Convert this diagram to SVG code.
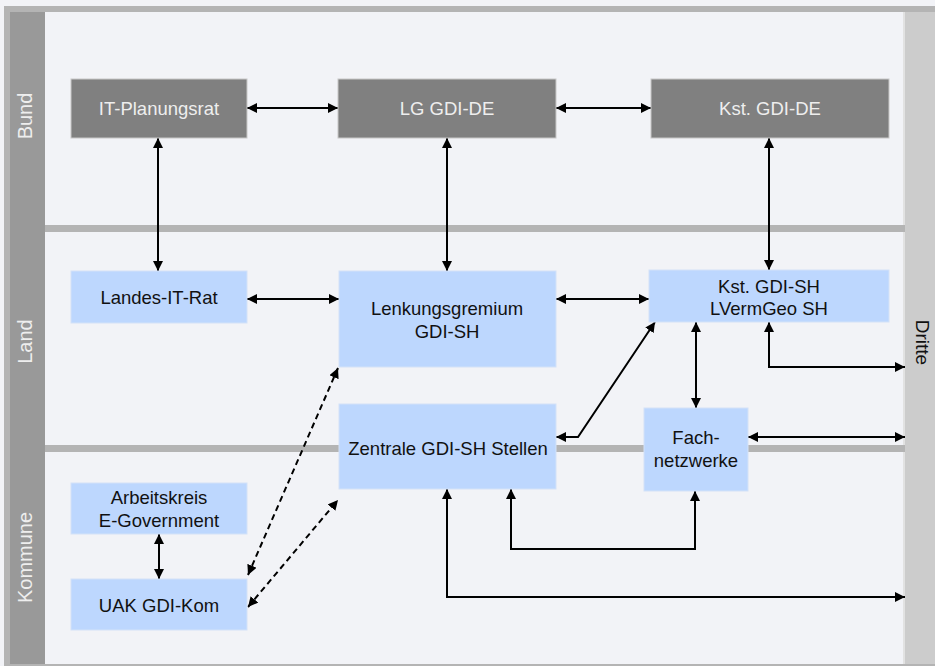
<svg xmlns="http://www.w3.org/2000/svg" width="935" height="666" viewBox="0 0 935 666">
<defs>
<marker id="ah" viewBox="0 0 10 10" refX="10" refY="5" markerWidth="10" markerHeight="10" markerUnits="userSpaceOnUse" orient="auto-start-reverse">
<path d="M0,0 L10,5 L0,10 z" fill="#000"/>
</marker>
<style>
.bg{fill:#f2f3f7}
.frame{fill:#b4b4b4}
.lane{fill:#999999}
.div{fill:#b4b4b4}
.dritte{fill:#cccccc}
.dark{fill:#808080;stroke:#c8c8c8;stroke-width:1}
.blue{fill:#bdd7fe;stroke:#d3e2f8;stroke-width:1}
.tl{font-family:"Liberation Sans",Arial,sans-serif;font-size:18.5px;text-anchor:middle}
.tw{fill:#eeeeee}
.tb{fill:#111111}
.lab{font-family:"Liberation Sans",Arial,sans-serif;font-size:20px;text-anchor:middle}
.c{fill:none;stroke:#000;stroke-width:2;marker-start:url(#ah);marker-end:url(#ah)}
.d{stroke-dasharray:6 4}
</style>
</defs>
<rect class="bg" x="0" y="0" width="935" height="666"/>
<rect class="frame" x="4" y="6" width="931" height="660"/>
<rect class="bg" x="10" y="12" width="925" height="652"/>
<rect class="lane" x="10" y="12" width="35" height="652"/>
<rect x="903" y="12" width="2" height="652" fill="#e2e2e2"/>
<rect class="dritte" x="905" y="12" width="30" height="652"/>
<rect class="div" x="45" y="225" width="860" height="7"/>
<rect class="div" x="45" y="445" width="860" height="7"/>
<g id="lanes">
<text class="lab tw" transform="translate(32,116) rotate(-90)">Bund</text>
<text class="lab tw" transform="translate(32,341.5) rotate(-90)">Land</text>
<text class="lab tw" transform="translate(32,557.5) rotate(-90)">Kommune</text>
<text class="lab tb" style="font-size:19px" transform="translate(916,342.5) rotate(90)">Dritte</text>
</g>
<g id="connectors">
<path class="c" d="M247,108 L338,108"/>
<path class="c" d="M556,108 L651,108"/>
<path class="c" d="M158,138 L158,271"/>
<path class="c" d="M447,138 L447,271"/>
<path class="c" d="M769,138 L769,270"/>
<path class="c" d="M247,299 L339,299"/>
<path class="c" d="M556,299 L649,299"/>
<path class="c" d="M696,322 L696,408"/>
<path class="c" d="M769,322 L769,367 L905,367"/>
<path class="c" d="M748,437 L905,437"/>
<path class="c" d="M556,437 L578,437 L655,322"/>
<path class="c" d="M511,489 L511,549 L695,549 L695,491"/>
<path class="c" d="M447,489 L447,597 L905,597"/>
<path class="c" d="M159,534 L159,579"/>
<path class="c d" d="M248,575 L338,368"/>
<path class="c d" d="M248,607 L338,500"/>
</g>
<g id="it-planungsrat">
<rect class="dark" x="71" y="79" width="176" height="59"/>
<text class="tl tw" x="159" y="115">IT-Planungsrat</text>
</g>
<g id="lg-gdi-de">
<rect class="dark" x="338" y="79" width="218" height="59"/>
<text class="tl tw" x="447" y="115">LG GDI-DE</text>
</g>
<g id="kst-gdi-de">
<rect class="dark" x="651" y="79" width="238" height="59"/>
<text class="tl tw" x="770" y="115">Kst. GDI-DE</text>
</g>
<g id="landes-it-rat">
<rect class="blue" x="71" y="271" width="176" height="52"/>
<text class="tl tb" x="159" y="304">Landes-IT-Rat</text>
</g>
<g id="lenkungsgremium">
<rect class="blue" x="339" y="271" width="217" height="96"/>
<text class="tl tb" x="447" y="315">Lenkungsgremium</text>
<text class="tl tb" x="447" y="337.5">GDI-SH</text>
</g>
<g id="kst-gdi-sh">
<rect class="blue" x="649" y="270" width="240" height="52"/>
<text class="tl tb" x="769" y="292.5">Kst. GDI-SH</text>
<text class="tl tb" x="769" y="315">LVermGeo SH</text>
</g>
<g id="zentrale">
<rect class="blue" x="339" y="404" width="217" height="85"/>
<text class="tl tb" x="448" y="455">Zentrale GDI-SH Stellen</text>
</g>
<g id="fachnetzwerke">
<rect class="blue" x="644" y="408" width="104" height="83"/>
<text class="tl tb" x="696" y="444">Fach-</text>
<text class="tl tb" x="696" y="466.5">netzwerke</text>
</g>
<g id="arbeitskreis">
<rect class="blue" x="71" y="483" width="176" height="51"/>
<text class="tl tb" x="159" y="504">Arbeitskreis</text>
<text class="tl tb" x="159" y="527">E-Government</text>
</g>
<g id="uak-gdi-kom">
<rect class="blue" x="71" y="579" width="176" height="51"/>
<text class="tl tb" x="159" y="611.5">UAK GDI-Kom</text>
</g>
</svg>
